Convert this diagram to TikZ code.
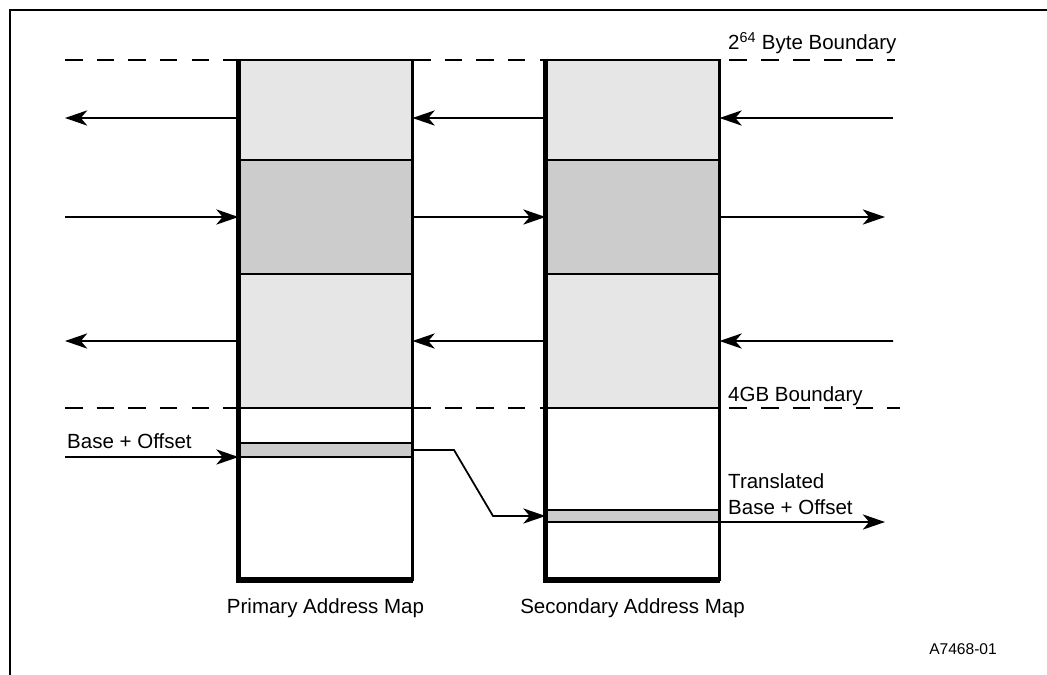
\documentclass[tikz,border=0pt]{standalone}
\usepackage{fontspec}
\setmainfont{Liberation Sans}
\usetikzlibrary{arrows.meta,positioning}
\definecolor{MapLight}{HTML}{E6E6E6}
\definecolor{MapMid}{HTML}{CCCCCC}

\begin{document}
\begin{tikzpicture}[x=0.03cm, y=-0.03cm,
    every node/.style={font=\fontsize{17.5}{21}\selectfont},
    seg/.style={draw, line width=1.9pt, minimum width=5.22cm, inner sep=0pt, outer sep=0pt},
    shadow/.style={line width=4.5pt, line join=miter},
    arr/.style={-{Stealth[length=19pt,width=13pt,inset=5.5pt]}, line width=1.5pt},
    bound/.style={dash pattern=on 15pt off 12pt, line width=1pt}]
  \useasboundingbox (0,0) rectangle (1047,674);
  % frame
  \draw[line width=2.4pt] (10,700) -- (10,10) -- (1100,10);
  % boundaries
  \coordinate (b1w) at (65,60);  \coordinate (b1e) at (895,60);
  \coordinate (b2w) at (65,408); \coordinate (b2e) at (900,408);
  \draw[bound] (b1w) -- (b1e);
  \draw[bound] (b2w) -- (b2e);
  % primary map
  \node[seg, fill=MapLight, minimum height=3cm] (p1) at (325.5,110) {};
  \node[seg, fill=MapMid, minimum height=3.42cm, below=0pt of p1] (p2) {};
  \node[seg, fill=MapLight, minimum height=4.02cm, below=0pt of p2] (p3) {};
  \node[seg, fill=white, minimum height=1.05cm, below=0pt of p3] (p4) {};
  \node[seg, fill=MapMid, minimum height=0.42cm, below=0pt of p4] (p5) {};
  \node[seg, fill=white, minimum height=3.69cm, below=0pt of p5] (p6) {};
  \draw[shadow] (p1.north west) -- (p6.south west) -- (p6.south east);
  % secondary map
  \node[seg, fill=MapLight, minimum height=3cm] (s1) at (632.5,110) {};
  \node[seg, fill=MapMid, minimum height=3.42cm, below=0pt of s1] (s2) {};
  \node[seg, fill=MapLight, minimum height=4.02cm, below=0pt of s2] (s3) {};
  \node[seg, fill=white, minimum height=3.06cm, below=0pt of s3] (s4) {};
  \node[seg, fill=MapMid, minimum height=0.36cm, below=0pt of s4] (s5) {};
  \node[seg, fill=white, minimum height=1.74cm, below=0pt of s5] (s6) {};
  \draw[shadow] (s1.north west) -- (s6.south west) -- (s6.south east);
  % arrows
  \coordinate (w1) at (65,118);  \coordinate (e1) at (893,118);
  \coordinate (w2) at (65,217);  \coordinate (e2) at (885,217);
  \coordinate (w3) at (65,341);  \coordinate (e3) at (893,341);
  \draw[arr] (w1 -| p1.west) -- (w1);
  \draw[arr] (w1 -| s1.west) -- (w1 -| p1.east);
  \draw[arr] (e1) -- (e1 -| s1.east);
  \draw[arr] (w2) -- (p2.west);
  \draw[arr] (p2.east) -- (s2.west);
  \draw[arr] (s2.east) -- (e2);
  \draw[arr] (p3.west) -- (w3);
  \draw[arr] (s3.west) -- (p3.east);
  \draw[arr] (e3) -- (s3.east);
  % translation
  \coordinate (w4) at (65,457);
  \coordinate (k1) at (454,450);
  \coordinate (k2) at (493,516);
  \coordinate (e4) at (885,522);
  \draw[arr] (w4) -- (p5.south west);
  \draw[arr] (p5.east) -- (k1) -- (k2) -- (s5.west);
  \draw[arr] (s5.south east) -- (e4);
  % labels
  \node[anchor=base west, inner sep=0pt] (top) at (728,50) {2\textsuperscript{64} Byte Boundary};
  \node[anchor=base west, inner sep=0pt] (low) at (728,401) {4GB Boundary};
  \node[anchor=base west, inner sep=0pt] (base) at (67,448) {Base + Offset};
  \node[anchor=base west, inner sep=0pt] (tr1) at (728,488) {Translated};
  \node[anchor=base west, inner sep=0pt] (tr2) at (728,514) {Base + Offset};
  \node[anchor=base, inner sep=0pt] (pname) at (325.5,613) {Primary Address Map};
  \node[anchor=base, inner sep=0pt] (sname) at (632.5,613) {Secondary Address Map};
  \node[anchor=base west, inner sep=0pt, font=\fontsize{13.3}{16}\selectfont] (fig) at (929,654) {A7468-01};
\end{tikzpicture}
\end{document}
